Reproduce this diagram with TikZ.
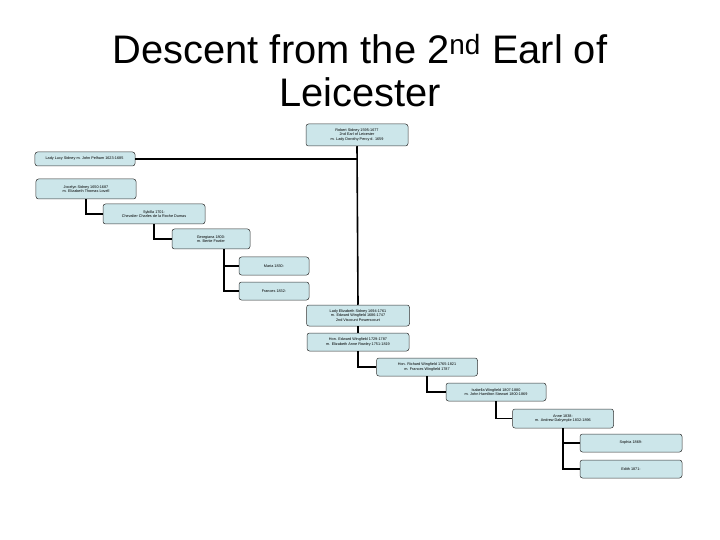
\documentclass[tikz,border=0pt]{standalone}
\usepackage{fontspec}
\setmainfont{Liberation Sans}
\definecolor{boxfill}{RGB}{204,230,234}
\begin{document}
\begin{tikzpicture}[x=1bp, y=-1bp,
    person/.style={draw=black!80, line width=0.5bp, fill=boxfill, rounded corners=2.5bp,
                   minimum width=102bp, minimum height=18bp, inner sep=0pt,
                   align=center, font=\fontsize{3.8}{4.5}\selectfont},
    line/.style={line width=1.6bp, black}
]
\useasboundingbox (0,0) rectangle (720,540);
\node[font=\fontsize{40}{44}\selectfont, align=center, anchor=base] (title) at (360,107)
    {Descent from the 2\textsuperscript{nd} Earl of\\Leicester};
\node[person, minimum height=22bp] (earl) at (357,135) {
    Robert Sidney 1595-1677\\
    2nd Earl of Leicester\\
    m. Lady Dorothy Percy d. 1659
};
\node[person, minimum width=100bp, minimum height=14bp] (lucy) at (85,159) {
    Lady Lucy Sidney m. John Pelham 1623-1685
};
\node[person, minimum width=100bp, minimum height=20bp] (joc) at (86,189) {
    Jocelyn Sidney 1650-1687\\
    m. Elizabeth Thomas Lovell
};
\node[person, minimum height=20bp] (syb) at (154,214) {
    Sybilla 1701-\\
    Chevalier Charles de la Roche Dumas
};
\node[person, minimum width=78bp, minimum height=20bp] (geo) at (211,239) {
    Georgiana 1800-\\
    m. Bertie Fowler
};
\node[person, minimum width=70bp] (maria) at (274,266) {Maria 1830-};
\node[person, minimum width=70bp] (fran) at (274,291) {Frances 1832-};
\node[person, minimum width=103bp, minimum height=21bp] (eliz) at (358,315.5) {
    Lady Elizabeth Sidney 1694-1761\\
    m. Edward Wingfield 1686-1747\\
    2nd Viscount Powerscourt
};
\node[person] (edw) at (358,342) {
    Hon. Edward Wingfield 1729-1787\\
    m. Elizabeth Anne Rowley 1751-1819
};
\node[person, minimum width=101bp] (rich) at (427,367) {
    Hon. Richard Wingfield 1765-1821\\
    m. Frances Wingfield 1787
};
\node[person, minimum width=100bp] (isab) at (496,392) {
    Isabella Wingfield 1807-1880\\
    m. John Hamilton Stewart 1800-1869
};
\node[person, minimum width=101bp, minimum height=19bp] (anne) at (563,418.5) {
    Anne 1838-\\
    m. Andrew Dalrymple 1832-1896
};
\node[person] (sophia) at (631,443) {Sophia 1869-};
\node[person] (edith) at (631,469) {Edith 1871-};
\draw[line] (earl.south) -- (eliz.north);
\draw[line] (lucy.east) -- (lucy.east -| eliz.north);
\draw[line] (joc.south) |- (syb.west);
\draw[line] (syb.south) |- (geo.west);
\coordinate (geodrop) at ([xshift=13bp]geo.south);
\draw[line] (geodrop) |- (fran.west);
\draw[line] (geodrop |- maria.west) -- (maria.west);
\draw[line] (eliz.south) -- (edw.north);
\draw[line] (edw.south) |- (rich.west);
\draw[line] (rich.south) |- (isab.west);
\draw[line] (isab.south) |- (anne.west);
\draw[line] (anne.south) |- (edith.west);
\draw[line] (anne.south |- sophia.west) -- (sophia.west);
\end{tikzpicture}
\end{document}
